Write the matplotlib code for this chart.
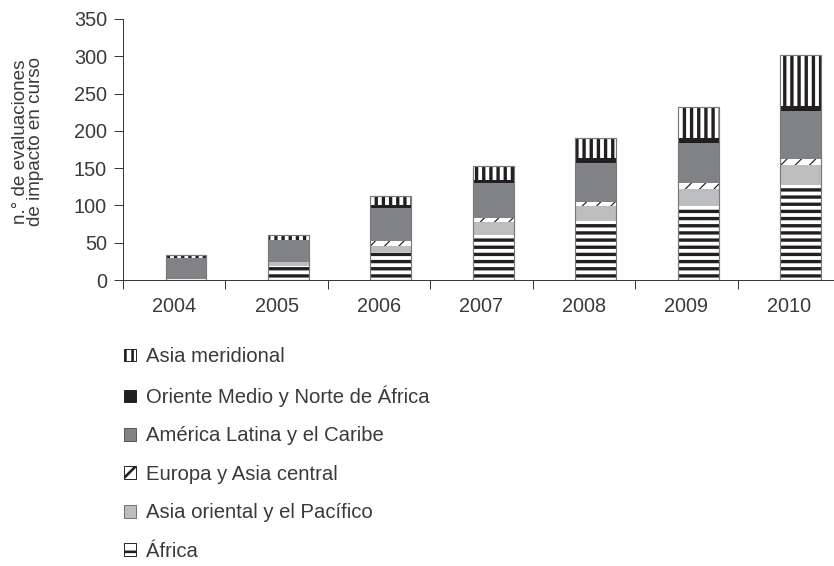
import matplotlib
matplotlib.use('Agg')
import matplotlib.pyplot as plt
from matplotlib.patches import Patch
import numpy as np

years = ['2004', '2005', '2006', '2007', '2008', '2009', '2010']
africa = [2, 19, 37, 60, 80, 99, 128]
east_asia = [0, 5, 9, 18, 19, 23, 26]
europe = [0, 0, 6, 5, 6, 8, 8]
latam = [27, 30, 45, 47, 52, 54, 64]
mena = [0, 0, 3, 4, 6, 7, 7]
south_asia = [4.5, 6, 13, 19, 27, 41, 69]

labels = ['Asia meridional', 'Oriente Medio y Norte de África', 'América Latina y el Caribe',
          'Europa y Asia central', 'Asia oriental y el Pacífico', 'África']

DPI = 86
plt.rcParams['font.family'] = ['Liberation Sans', 'DejaVu Sans']
plt.rcParams['text.color'] = '#3a3a3a'
plt.rcParams['xtick.color'] = '#3a3a3a'
plt.rcParams['ytick.color'] = '#3a3a3a'

ink = '#231f20'
fig = plt.figure(figsize=(834 / DPI, 566 / DPI), dpi=DPI)
ax = fig.add_axes([123 / 834, 1 - 280 / 566, 710 / 834, 261 / 566])

x = np.arange(len(years))
w = 0.4
# (values, face colour, hatch, hatch line width)
segments = [
    (africa, 'white', '--', 2.8),
    (east_asia, '#bcbdbf', None, 1.0),
    (europe, 'white', '//', 1.0),
    (latam, '#808285', None, 1.0),
    (mena, ink, None, 1.0),
    (south_asia, 'white', '||', 2.8),
]

bottom = np.zeros(len(years))
for vals, face, hatch, hlw in segments:
    plt.rcParams['hatch.linewidth'] = hlw
    bars = ax.bar(x, vals, w, bottom=bottom, color=face, edgecolor=ink,
                  linewidth=0, hatch=hatch)
    for b in bars:
        if hasattr(b, 'set_hatch_linewidth'):
            b.set_hatch_linewidth(hlw)
    bottom = bottom + np.array(vals)

# outline round each stack
ax.bar(x, bottom, w, fill=False, edgecolor='#7a7a7a', linewidth=1.0)

ax.set_xlim(-0.615, 6.317)
ax.set_ylim(0, 350)
ax.set_yticks(range(0, 351, 50))
ax.set_xticks(x - 0.115)
ax.set_xticklabels(years)
ax.set_xticks(np.arange(-1, 6) + 0.385, minor=True)
ax.tick_params(axis='x', which='major', length=0, pad=14, labelsize=16.7)
ax.tick_params(axis='x', which='minor', length=7.5, width=0.85, direction='out')
ax.tick_params(axis='y', length=7.5, width=0.85, pad=5.9, labelsize=16.7)
for s in ['top', 'right']:
    ax.spines[s].set_visible(False)
for s in ['left', 'bottom']:
    ax.spines[s].set_color('#3a3a3a')
    ax.spines[s].set_linewidth(0.85)

fig.text(28 / 834, 1 - 142 / 566, 'n.° de evaluaciones\nde impacto en curso',
         rotation=90, ha='center', va='center', multialignment='center',
         fontsize=15.8, linespacing=0.92)

handles = [
    Patch(facecolor='white', edgecolor=ink, hatch='||', linewidth=0.8),
    Patch(facecolor=ink, edgecolor=ink, linewidth=0.8),
    Patch(facecolor='#808285', edgecolor='#555555', linewidth=0.8),
    Patch(facecolor='white', edgecolor=ink, hatch='/', linewidth=0.8),
    Patch(facecolor='#bcbdbf', edgecolor='#6d6d6d', linewidth=0.8),
    Patch(facecolor='white', edgecolor=ink, hatch='-', linewidth=0.8),
]
plt.rcParams['hatch.linewidth'] = 1.6
leg = fig.legend(handles, labels, loc='upper left', bbox_to_anchor=(124 / 834, 1 - 347 / 566),
                 frameon=False, fontsize=17, borderpad=0, borderaxespad=0,
                 handlelength=0.58, handleheight=0.58, handletextpad=0.5, labelspacing=0.96)
for p in leg.get_patches():
    if hasattr(p, 'set_hatch_linewidth'):
        p.set_hatch_linewidth(2.2)

fig.savefig('out.png', dpi=DPI)
